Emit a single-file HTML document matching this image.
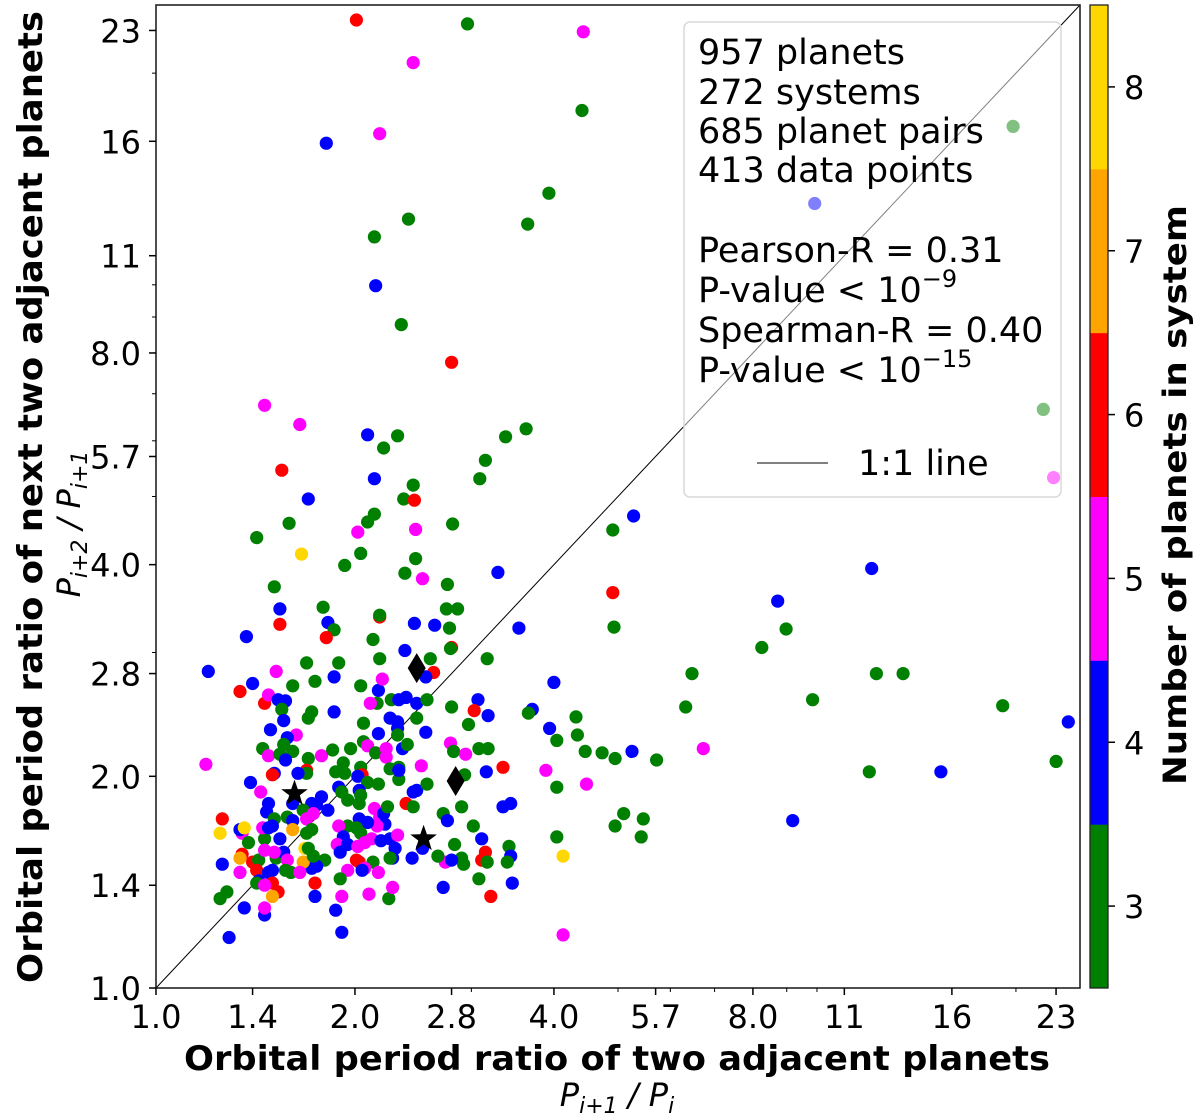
<!DOCTYPE html>
<html><head><meta charset="utf-8"><style>
html,body{margin:0;padding:0;background:#fff;}
svg{display:block;font-family:"DejaVu Sans","Liberation Sans",sans-serif;}
</style></head><body>
<svg id="chart" width="1200" height="1118" viewBox="0 0 1200 1118" xmlns="http://www.w3.org/2000/svg">
<g id="plot"></g>
<g id="axes"></g>
<g id="legend">
  <rect x="684" y="22" width="377" height="475" rx="6" fill="rgba(255,255,255,0.5)" stroke="#d8d8d8" stroke-width="1.5"/>
  <g font-size="35" fill="#000">
    <text x="698" y="64">957 planets</text>
    <text x="698" y="104">272 systems</text>
    <text x="698" y="143">685 planet pairs</text>
    <text x="698" y="182">413 data points</text>
    <text x="698" y="262">Pearson-R = 0.31</text>
    <text x="698" y="302">P-value &lt; 10<tspan font-size="24" dy="-15">−9</tspan></text>
    <text x="698" y="342">Spearman-R = 0.40</text>
    <text x="698" y="382">P-value &lt; 10<tspan font-size="24" dy="-15">−15</tspan></text>
    <line x1="757" y1="463" x2="828" y2="463" stroke="#000" stroke-width="1"/>
    <text x="858" y="475">1:1 line</text>
  </g>
</g>
<g id="labels">
  <text x="617" y="1070" text-anchor="middle" font-size="34" font-weight="bold" textLength="866" lengthAdjust="spacingAndGlyphs">Orbital period ratio of two adjacent planets</text>
  <text x="617" y="1106" text-anchor="middle" font-size="32" font-style="italic">P<tspan font-size="22" dy="7">i+1</tspan><tspan dy="-7"> / P</tspan><tspan font-size="22" dy="7">i</tspan></text>
  <text transform="translate(42,497) rotate(-90)" text-anchor="middle" font-size="34" font-weight="bold" textLength="972" lengthAdjust="spacingAndGlyphs">Orbital period ratio of next two adjacent planets</text>
  <text transform="translate(80,524) rotate(-90)" text-anchor="middle" font-size="32" font-style="italic">P<tspan font-size="22" dy="7">i+2</tspan><tspan dy="-7"> / P</tspan><tspan font-size="22" dy="7">i+1</tspan></text>
  <text transform="translate(1186,495) rotate(-90)" text-anchor="middle" font-size="32" font-weight="bold" textLength="580" lengthAdjust="spacingAndGlyphs">Number of planets in system</text>
</g>
</svg>
<script>
const xs = [2.01,2.96,4.43,2.45,4.41,2.18,1.81,3.93,2.41,3.65,2.14,2.15,2.35,2.80,19.8,9.92,22.0,22.8,
1.46,1.65,2.09,2.32,2.21,3.38,3.63,3.15,3.09,1.55,2.14,2.45,2.37,2.46,1.70,2.14,2.09,1.59,1.42,2.02,2.47,2.81,1.66,2.04,1.93,2.47,2.38,2.53,3.29,1.51,2.76,1.54,1.79,2.75,2.86,2.18,2.18,1.54,1.82,1.86,2.46,2.64,2.78,3.54,1.37,1.81,2.13,2.38,2.80,2.79,
1.20,1.52,1.34,1.40,1.46,1.48,1.53,1.57,1.55,1.61,1.69,1.74,1.89,1.86,2.18,2.60,2.63,2.56,3.17,2.04,2.17,2.20,2.16,2.11,2.27,2.39,2.33,2.48,2.57,2.80,3.07,3.03,3.18,3.71,3.66,1.72,1.70,1.86,1.56,1.49,1.63,1.58,2.06,2.26,2.32,2.48,2.32,2.17,2.32,2.56,2.97,
1.45,1.56,1.61,1.48,1.54,1.57,1.70,1.78,1.85,1.97,2.06,2.09,2.15,2.23,2.23,2.36,2.40,2.79,2.82,2.94,3.08,3.18,3.35,3.16,2.93,2.52,2.33,2.26,2.33,2.33,2.04,1.92,1.87,1.93,2.05,2.02,2.09,2.17,1.69,1.69,1.64,1.51,1.50,1.39,1.44,1.19,
1.89,1.91,2.03,1.95,2.03,2.04,1.78,1.72,1.82,1.75,1.61,1.48,1.47,1.51,1.58,1.61,1.67,1.69,1.73,2.14,2.18,2.21,2.24,2.22,2.16,2.09,2.03,2.01,2.04,1.95,1.89,1.92,1.88,1.95,1.90,2.02,2.07,2.12,2.19,2.26,2.32,2.30,2.28,
2.45,2.48,2.39,2.45,2.57,2.90,2.72,2.76,3.02,3.11,3.35,3.44,2.83,3.42,3.44,3.15,3.11,3.17,3.40,2.90,2.92,2.74,2.80,2.67,2.44,2.53,2.26,2.13,2.01,2.03,1.95,2.07,2.17,1.90,2.05,1.80,1.75,1.72,1.67,1.68,1.70,1.73,1.69,1.72,1.61,
1.54,1.46,1.45,1.48,1.50,1.35,1.34,1.36,1.25,1.26,1.38,1.26,1.35,1.34,1.40,1.43,1.42,1.34,1.46,1.52,1.56,1.51,1.58,1.57,1.60,1.65,1.50,1.48,1.43,1.42,1.50,1.53,1.50,1.46,1.74,1.74,1.91,2.10,2.25,2.28,2.72,3.21,3.46,3.08,1.28,1.25,1.36,1.46,1.46,1.87,1.91,1.29,
5.28,4.91,12.1,4.91,8.72,4.93,8.98,8.25,6.47,12.3,13.5,6.33,9.85,19.1,24.0,4.00,4.32,4.34,3.94,4.04,4.46,4.73,4.95,5.25,5.72,6.73,3.89,4.04,4.48,12.0,15.4,23.0,5.10,5.46,4.95,5.42,4.04,9.19,4.13,4.13];
const ys = [23.8,23.5,22.9,20.7,17.7,16.4,15.9,13.5,12.4,12.2,11.7,9.97,8.78,7.76,16.8,13.05,6.65,5.32,
6.74,6.33,6.12,6.10,5.86,6.08,6.24,5.63,5.30,5.45,5.30,5.19,4.96,4.94,4.96,4.72,4.60,4.58,4.37,4.45,4.49,4.57,4.14,4.15,3.99,4.08,3.89,3.82,3.90,3.72,3.75,3.46,3.48,3.46,3.46,3.37,3.39,3.29,3.31,3.23,3.30,3.28,3.25,3.25,3.16,3.15,3.13,3.02,3.05,3.04,
2.82,2.82,2.64,2.71,2.54,2.61,2.57,2.56,2.49,2.69,2.90,2.73,2.90,2.77,2.94,2.94,2.81,2.77,2.94,2.69,2.65,2.75,2.54,2.54,2.57,2.59,2.57,2.54,2.57,2.51,2.57,2.48,2.44,2.49,2.46,2.47,2.42,2.47,2.40,2.33,2.29,2.27,2.38,2.42,2.39,2.42,2.34,2.30,2.29,2.31,2.37,
2.19,2.22,2.17,2.14,2.15,2.11,2.12,2.14,2.18,2.19,2.24,2.21,2.16,2.19,2.13,2.19,2.22,2.23,2.17,2.15,2.19,2.19,2.06,2.03,2.01,2.07,2.06,2.05,1.98,2.04,2.06,2.09,2.03,2.02,2.01,2.00,1.96,1.95,2.04,2.02,2.02,2.02,2.01,1.96,1.90,2.08,
1.93,1.90,1.91,1.85,1.83,1.88,1.87,1.83,1.79,1.82,1.83,1.83,1.78,1.74,1.75,1.73,1.79,1.74,1.77,1.80,1.75,1.77,1.81,1.71,1.70,1.72,1.74,1.69,1.66,1.70,1.70,1.64,1.60,1.60,1.56,1.59,1.61,1.63,1.62,1.63,1.65,1.58,1.53,
1.90,1.91,1.83,1.81,1.95,1.81,1.77,1.73,1.70,1.63,1.81,1.83,1.60,1.59,1.54,1.56,1.52,1.51,1.51,1.53,1.50,1.51,1.52,1.54,1.53,1.58,1.53,1.51,1.52,1.51,1.47,1.48,1.46,1.43,1.47,1.52,1.49,1.48,1.51,1.58,1.58,1.54,1.66,1.68,1.68,
1.63,1.63,1.69,1.69,1.70,1.66,1.68,1.69,1.66,1.74,1.61,1.50,1.55,1.53,1.51,1.52,1.47,1.46,1.57,1.53,1.56,1.56,1.52,1.47,1.46,1.46,1.47,1.46,1.42,1.41,1.41,1.37,1.35,1.40,1.41,1.35,1.35,1.36,1.34,1.39,1.39,1.35,1.41,1.43,1.37,1.34,1.30,1.27,1.30,1.29,1.20,1.18,
4.69,4.48,3.95,3.65,3.55,3.26,3.24,3.05,2.80,2.80,2.80,2.51,2.57,2.52,2.39,2.72,2.43,2.29,2.34,2.25,2.17,2.16,2.12,2.17,2.11,2.19,2.04,1.93,1.95,2.03,2.03,2.10,1.77,1.74,1.70,1.64,1.64,1.73,1.54,1.19];
const ns = [6,3,5,5,3,5,4,3,3,3,3,4,3,6,3,4,3,5,
5,5,4,3,3,3,3,3,3,6,4,3,3,6,4,3,3,3,3,5,5,3,8,3,3,3,3,5,4,3,3,4,3,3,3,6,3,6,4,3,4,4,3,4,4,6,3,4,6,3,
4,5,6,4,6,5,4,4,3,3,3,3,3,4,3,3,6,4,3,3,4,5,3,5,3,4,4,4,3,3,4,6,4,4,3,3,3,4,4,4,5,4,3,4,4,3,4,4,3,4,3,
3,3,3,5,3,4,3,5,3,3,3,5,3,5,5,4,3,5,3,5,3,3,6,4,3,5,3,3,3,4,3,3,3,3,6,4,3,3,6,3,4,4,6,4,5,5,
4,3,4,3,3,3,4,4,4,4,4,4,4,3,3,4,3,5,5,5,5,4,3,4,5,4,4,3,3,3,5,4,5,4,4,5,5,5,4,4,5,4,4,
4,4,6,3,3,3,3,4,3,4,4,4,3,3,4,6,6,3,3,3,3,5,4,3,4,4,3,3,6,6,5,5,5,3,4,3,4,4,7,8,3,3,3,3,7,
4,3,5,4,4,5,4,8,8,6,3,4,6,7,6,3,6,5,5,3,4,5,5,3,3,5,4,4,4,3,6,6,7,5,6,4,5,5,3,5,4,6,4,3,3,3,4,4,5,4,4,4,
4,3,4,6,4,3,3,3,3,3,3,3,3,3,4,4,3,3,4,3,3,3,3,4,3,5,5,3,5,3,4,3,3,3,3,3,3,4,8,5];
const starX = [1.62, 2.54];
const starY = [1.89, 1.63];
const diamondX = [2.48, 2.84];
const diamondY = [2.85, 1.97];
const xTicks = [1.0,1.4,2.0,2.8,4.0,5.7,8.0,11,16,23];
const xTickLabels = ["1.0","1.4","2.0","2.8","4.0","5.7","8.0","11","16","23"];
const yTicks = [1.0,1.4,2.0,2.8,4.0,5.7,8.0,11,16,23];
const yTickLabels = ["1.0","1.4","2.0","2.8","4.0","5.7","8.0","11","16","23"];
const minorTicks = [3,5,6,7,9,10,20];
const cbLevels = [3,4,5,6,7,8];
const cbColors = ["#008000","#0000ff","#ff00ff","#ff0000","#ffa500","#ffd700"];

const NS = "http://www.w3.org/2000/svg";
const X0 = 156, X1 = 1080, Y0 = 988, Y1 = 5, VMAX = 25;
const sx = v => X0 + (X1 - X0) * Math.log(v) / Math.log(VMAX);
const sy = v => Y0 - (Y0 - Y1) * Math.log(v) / Math.log(VMAX);
const cbTop = 5, cbBot = 988, cbL = 1090, cbW = 18;
const cy = n => cbBot - (n - 2.5) / 6 * (cbBot - cbTop);
const colorOf = n => cbColors[n - 3];
function mk(tag, attrs, parent) {
  const e = document.createElementNS(NS, tag);
  for (const k in attrs) e.setAttribute(k, attrs[k]);
  parent.appendChild(e);
  return e;
}
const plot = document.getElementById('plot');
const axes = document.getElementById('axes');

const diag = mk('line', {x1: sx(1), y1: sy(1), x2: sx(VMAX), y2: sy(VMAX), stroke: '#000', 'stroke-width': 1}, plot);



for (let i = 0; i < xs.length; i++) {
  const c = mk('circle', {cx: sx(xs[i]).toFixed(1), cy: sy(ys[i]).toFixed(1), r: 6.6, fill: colorOf(ns[i])}, plot);
  
  
}
function starPath(cx, cyy, R) {
  const r = R * 0.4; let d = '';
  for (let k = 0; k < 10; k++) {
    const a = -Math.PI / 2 + k * Math.PI / 5, rr = k % 2 ? r : R;
    d += (k ? 'L' : 'M') + (cx + rr * Math.cos(a)).toFixed(1) + ' ' + (cyy + rr * Math.sin(a)).toFixed(1);
  }
  return d + 'Z';
}
for (let i = 0; i < starX.length; i++) {
  const s = mk('path', {d: starPath(sx(starX[i]), sy(starY[i]), 14), fill: '#000'}, plot);
  
  
}
for (let i = 0; i < diamondX.length; i++) {
  const px = sx(diamondX[i]), py = sy(diamondY[i]);
  const d = mk('path', {d: `M${px} ${py-15}L${px+9} ${py}L${px} ${py+15}L${px-9} ${py}Z`, fill: '#000'}, plot);
  
  
}

const frame = mk('rect', {x: X0, y: Y1, width: X1 - X0, height: Y0 - Y1, fill: 'none', stroke: '#222', 'stroke-width': 1.6}, axes);



xTicks.forEach((v, i) => {
  const x = sx(v);
  const t = mk('line', {x1: x, y1: Y0, x2: x, y2: Y0 + 7, stroke: '#000', 'stroke-width': 1.5}, axes);
  
  
  const l = mk('text', {x: x, y: 1028, 'text-anchor': 'middle', 'font-size': 32}, axes);
  l.textContent = xTickLabels[i];
  
  
});
yTicks.forEach((v, i) => {
  const y = sy(v);
  const t = mk('line', {x1: X0 - 7, y1: y, x2: X0, y2: y, stroke: '#000', 'stroke-width': 1.5}, axes);
  
  
  const l = mk('text', {x: 141, y: y + 12, 'text-anchor': 'end', 'font-size': 32}, axes);
  l.textContent = yTickLabels[i];
  
  
});
minorTicks.forEach(v => {
  const a = mk('line', {x1: sx(v), y1: Y0, x2: sx(v), y2: Y0 + 4, stroke: '#000', 'stroke-width': 1}, axes);
  
  
  const b = mk('line', {x1: X0 - 4, y1: sy(v), x2: X0, y2: sy(v), stroke: '#000', 'stroke-width': 1}, axes);
  
  
});

cbLevels.forEach((n, i) => {
  const r = mk('rect', {x: cbL, y: cy(n + 0.5), width: cbW, height: cy(n - 0.5) - cy(n + 0.5) + 0.5, fill: cbColors[i]}, axes);
  
  
  const t = mk('line', {x1: cbL + cbW, y1: cy(n), x2: cbL + cbW + 7, y2: cy(n), stroke: '#000', 'stroke-width': 1.5}, axes);
  
  
  const l = mk('text', {x: 1124, y: cy(n) + 12, 'font-size': 32}, axes);
  l.textContent = String(n);
  
  
});
const cbf = mk('rect', {x: cbL, y: cbTop, width: cbW, height: cbBot - cbTop, fill: 'none', stroke: '#222', 'stroke-width': 1.3}, axes);


</script>
</body></html>
